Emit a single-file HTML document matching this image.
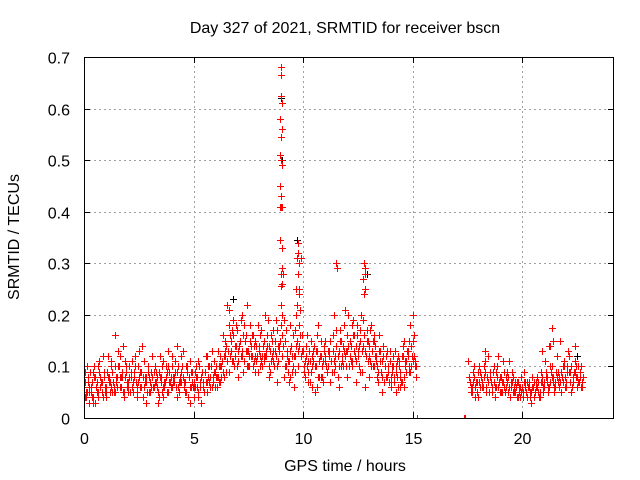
<!DOCTYPE html>
<html><head><meta charset="utf-8"><style>
html,body{margin:0;padding:0;background:#fff}
svg{display:block;font-family:"Liberation Sans",sans-serif}
</style></head><body>
<svg id="chart" width="640" height="480" viewBox="0 0 640 480">
<defs><clipPath id="pc"><rect x="84" y="57" width="530" height="361"/></clipPath></defs>
<rect width="640" height="480" fill="#fff"/>
<g id="grid"></g>
<g id="axes"></g>
<g id="marks" clip-path="url(#pc)"></g>
<rect x="84.5" y="57.5" width="529" height="361" fill="none" stroke="#000" stroke-width="1"/>
<text x="345" y="33" text-anchor="middle" font-size="16">Day 327 of 2021, SRMTID for receiver bscn</text>
<text x="345" y="471" text-anchor="middle" font-size="16">GPS time / hours</text>
<text transform="translate(19,237) rotate(-90)" text-anchor="middle" font-size="16">SRMTID / TECUs</text>
</svg>
<script>
const xTicks=[0,5,10,15,20];
const yTicks=[0,0.1,0.2,0.3,0.4,0.5,0.6,0.7];
const yTickLabels=["0","0.1","0.2","0.3","0.4","0.5","0.6","0.7"];
const segAStart=0.0, segAStep=0.1;
const redA1=[.06,.04,.08,.05,.09,.03,.07,.11,.05,.08,.06,.12,.07,.05,.16,.08,.10,.06,.14,.09,.07,.05,.11,.08,.06,.13,.09,.04,.08,.10,.07,.12,.06,.09,.03,.08,.11,.07,.05,.09,.12,.08,.06,.10,.07,.13,.05,.09,.08,.06,.04,.08,.11,.06,.09,.05,.12,.07,.10,.08,.09,.13,.07,.11,.08,.14,.21,.15,.19,.12,.17,.14,.20,.11,.16,.13,.18,.10,.15,.12,.14,.17,.11,.13,.19,.09,.12,.15,.17,.13,.22,.28,.15,.09,.18,.12,.06,.20,.25,.31,.13,.08,.16,.11,.06,.14,.10,.18,.12,.07,.15,.09,.13,.11,.20,.14,.08,.17,.12,.21,.16,.10,.14,.19,.11,.13,.17,.09,.24,.15,.12,.18,.10,.14,.08,.13,.11,.07,.12,.09,.06,.10,.13,.08,.11,.07,.15,.09,.12,.18,.20,.10];
const redA2=[.09,.05,.03,.07,.10,.06,.04,.08,.12,.05,.09,.07,.10,.05,.08,.13,.06,.09,.11,.07,.10,.08,.05,.12,.07,.09,.14,.06,.08,.05,.09,.06,.10,.08,.12,.05,.07,.10,.13,.06,.08,.11,.14,.07,.09,.06,.10,.04,.11,.07,.09,.06,.10,.03,.07,.12,.08,.06,.13,.09,.06,.10,.08,.16,.13,.22,.12,.17,.10,.18,.13,.19,.09,.15,.22,.12,.16,.14,.11,.18,.16,.12,.20,.14,.10,.16,.13,.19,.11,.15,.16,.19,.12,.07,.14,.10,.17,.13,.21,.16,.10,.12,.09,.15,.13,.05,.16,.11,.08,.14,.10,.13,.07,.16,.12,.29,.10,.15,.18,.13,.20,.12,.18,.13,.16,.10,.20,.14,.28,.11,.17,.13,.15,.11,.16,.09,.14,.10,.08,.13,.10,.07,.09,.12,.06,.14,.11,.13,.15,.10,.12,.08];
const redA3=[.04,.06,.03,.05,.07,.04,.06,.05,.08,.04,.05,.07,.04,.06,.03,.05,.07,.04,.06,.05,.06,.04,.07,.05,.03,.06,.04,.07,.05,.06,.08,.10,.12,.09,.11,.08,.13,.10,.12,.09,.10,.12,.08,.11,.07,.20,.10,.08,.12,.14,.09,.07,.10,.06,.08,.11,.07,.09,.06,.10,.08,.10,.07,.09,.06,.08,.10,.07,.05,.08,.07,.05,.08,.06,.09,.11];
const redA4=[.07,.10,.05,.06,.04,.08,.10,.06,.07,.09,.05,.08,.11,.07,.10,.06,.12,.08,.05,.10,.06,.09,.07,.10,.05,.08,.06,.11,.07,.09,.05,.08,.10,.06,.09,.07,.04,.08,.10,.07,.10,.07,.09,.05,.12,.08,.07,.10,.06,.09,.07,.10,.05,.08,.06,.09,.07,.10,.06,.11,.10,.08,.12,.09,.15,.11,.18,.13,.16,.14,.11,.15,.12,.18,.13,.10,.14,.16,.12,.09,.12,.10,.15,.12,.14,.11,.17,.13,.10,.14,.12,.08,.17,.11,.13,.16,.09,.15,.18,.12,.09,.14,.11,.07,.12,.10,.13,.08,.15,.11,.12,.10,.15,.09,.11,.17,.13,.10,.14,.12,.13,.15,.11,.16,.14,.12,.15,.19,.13,.17,.14,.10,.16,.12,.09,.11,.08,.10,.13,.07,.08,.12,.10,.06,.09,.12,.08,.11,.10,.14,.15,.11];
const redA5=[.05,.07,.09,.04,.08,.05,.09,.07,.04,.06,.08,.05,.09,.06,.07,.10,.08,.05,.08,.06,.08,.06,.09,.07,.10,.06,.08,.07,.05,.08,.06,.09,.07,.05,.08,.10,.06,.09,.07,.08,.07,.09,.06,.08,.10,.07,.05,.08,.09,.06,.06,.08,.07,.09,.05,.07,.10,.08,.07,.06,.08,.07,.10,.12,.09,.13,.16,.11,.14,.10,.14,.12,.16,.13,.10,.15,.12,.11,.14,.13,.11,.14,.12,.16,.13,.15,.10,.12,.14,.18,.14,.10,.13,.11,.09,.12,.14,.10,.16,.13,.11,.10,.13,.09,.11,.13,.08,.12,.10,.13,.09,.12,.11,.13,.10,.12,.15,.11,.13,.10,.14,.11,.16,.12,.18,.14,.13,.16,.12,.15,.11,.15,.12,.10,.13,.09,.12,.08,.10,.11,.09,.08,.11,.10,.07,.12,.10,.13,.09,.12,.16,.10];
const segBStart=17.6, segBStep=0.1;
const redB1=[.08,.05,.10,.07,.04,.09,.06,.11,.08,.05,.07,.10,.06,.12,.08,.05,.09,.07,.11,.06,.08,.05,.07,.04,.06,.09,.05,.07,.03,.06,.05,.08,.04,.07,.06,.09,.05,.10,.07,.06,.12,.08,.05,.10,.07,.13,.09,.06,.11,.08,.07,.10];
const redB2=[.06,.09,.04,.07,.10,.06,.08,.05,.12,.09,.06,.04,.10,.07,.05,.11,.06,.08,.04,.09,.06,.07,.05,.08,.04,.06,.07,.05,.08,.04,.07,.05,.09,.06,.11,.07,.14,.08,.06,.09,.07,.15,.10,.06,.09,.12,.05,.08,.10,.07,.09,.06];
const redB3=[.07,.06,.08,.05,.07,.08,.06,.09,.07,.08,.05,.07,.09,.06,.08,.07,.05,.09,.06,.07,.05,.06,.04,.06,.05,.07,.04,.06,.05,.07,.06,.07,.05,.08,.07,.08,.06,.09,.08,.07,.09,.07,.08,.11,.06,.09,.10,.07,.09,.06,.08,.07];
const redB4=[.05,.07,.06,.09,.06,.07,.10,.06,.05,.07,.09,.06,.08,.05,.07,.06,.08,.05,.07,.05,.07,.04,.06,.05,.07,.05,.06,.04,.06,.05,.06,.04,.07,.05,.08,.06,.07,.10,.05,.08,.06,.09,.07,.08,.10,.07,.06,.09,.08,.10,.06,.08];
const spikeT=[9.0,9.0,8.98,9.02,8.97,9.03,9.0,8.96,8.99,9.03,8.97,9.0,8.96,8.99,9.02,8.95,9.03,9.05,8.98,9.06,9.01,9.75,9.78,9.72,9.8,9.76,9.7,9.82,9.74,11.5,11.55,12.8,12.85,12.75,12.82,21.35,21.4,21.3,20.9,18.3,22.4,17.55];
const spikeV=[.68,.665,.625,.61,.58,.56,.545,.51,.50,.49,.45,.43,.41,.41,.41,.345,.33,.29,.28,.26,.255,.34,.32,.31,.30,.28,.25,.24,.22,.30,.29,.30,.29,.27,.25,.175,.15,.14,.13,.13,.14,.11];
const blackT=[9.01,8.99,9.02,9.71,6.8,12.9,22.5];
const blackV=[.665,.62,.50,.345,.23,.28,.12];
const zeroT=[15.2,17.33,17.36,17.39];

const X0=84,X1=614,Y0=418,Y1=57,XMAX=24.2,YMAX=0.7;
const sx=t=>X0+(t/XMAX)*(X1-X0);
const sy=v=>Y0-(v/YMAX)*(Y0-Y1);
const NS="http://www.w3.org/2000/svg";
const grid=document.getElementById('grid'),axes=document.getElementById('axes'),marks=document.getElementById('marks');
function mk(tag,attrs,parent){const e=document.createElementNS(NS,tag);for(const k in attrs)e.setAttribute(k,attrs[k]);parent.appendChild(e);return e;}
xTicks.forEach(t=>{
  const x=Math.round(sx(t))+0.5;
  if(t>0){const g=mk('line',{x1:x,y1:Y0,x2:x,y2:Y1,stroke:'#a0a0a0','stroke-dasharray':'2,3'},grid);
  
  }
  const a=mk('line',{x1:x,y1:Y0,x2:x,y2:Y0-6,stroke:'#000'},axes);
  
  
  const b=mk('line',{x1:x,y1:Y1,x2:x,y2:Y1+6,stroke:'#000'},axes);
  
  
  const l=mk('text',{x:x,y:444,'text-anchor':'middle','font-size':'16'},axes);l.textContent=String(t);
  
  
});
yTicks.forEach((v,i)=>{
  const y=Math.round(sy(v))+0.5;
  if(v>0&&v<YMAX){const g=mk('line',{x1:X0,y1:y,x2:X1,y2:y,stroke:'#a0a0a0','stroke-dasharray':'2,3'},grid);
  
  }
  const a=mk('line',{x1:X0,y1:y,x2:X0+6,y2:y,stroke:'#000'},axes);
  
  
  const b=mk('line',{x1:X1,y1:y,x2:X1-6,y2:y,stroke:'#000'},axes);
  
  
  const l=mk('text',{x:70,y:y+6,'text-anchor':'end','font-size':'16'},axes);l.textContent=yTickLabels[i];
  
  
});
function plus(t,v,color,name){
  const x=Math.round(sx(t))+0.5,y=Math.round(sy(v))+0.5;
  const p=mk('path',{d:`M${x-3.5} ${y}H${x+3.5}M${x} ${y-3.5}V${y+3.5}`,stroke:color,'stroke-width':'1',fill:'none'},marks);
  
  
}
blackT.forEach((t,i)=>plus(t,blackV[i],'#000','black-point'));
redA1.forEach((v,i)=>plus(segAStart+i*segAStep,v,'#f00','red-point'));
redA2.forEach((v,i)=>plus(segAStart+0.05+i*segAStep,v,'#f00','red-point'));
redA3.forEach((v,i)=>plus(segAStart+0.025+i*0.2,v,'#f00','red-point'));
redA4.forEach((v,i)=>plus(segAStart+0.025+i*segAStep,v,'#f00','red-point'));
redA5.forEach((v,i)=>plus(segAStart+0.075+i*segAStep,v,'#f00','red-point'));
redB1.forEach((v,i)=>plus(segBStart+i*segBStep,v,'#f00','red-point'));
redB2.forEach((v,i)=>plus(segBStart+0.05+i*segBStep,v,'#f00','red-point'));
redB3.forEach((v,i)=>plus(segBStart+0.025+i*segBStep,v,'#f00','red-point'));
redB4.forEach((v,i)=>plus(segBStart+0.075+i*segBStep,v,'#f00','red-point'));
spikeT.forEach((t,i)=>plus(t,spikeV[i],'#f00','red-point'));
zeroT.forEach(t=>plus(t,0,'#f00','red-zero-point'));
</script>
</body></html>
